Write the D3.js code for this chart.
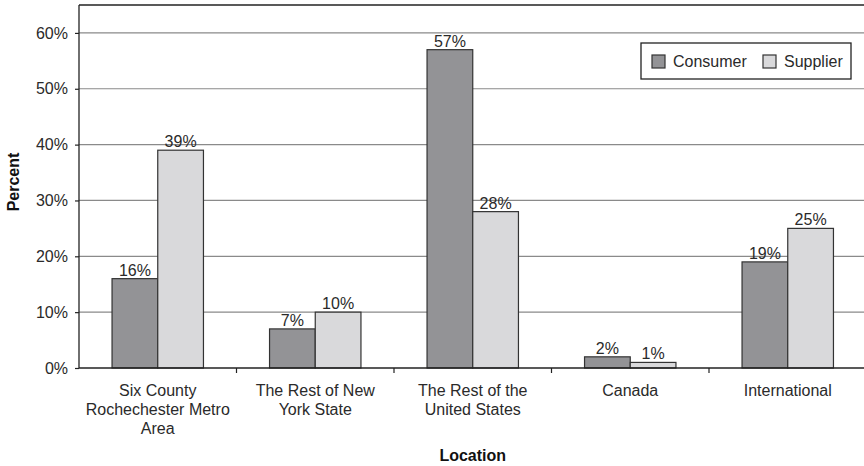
<!DOCTYPE html>
<html>
<head>
<meta charset="utf-8">
<script src="https://cdn.jsdelivr.net/npm/d3@7"></script>
<style>
  html, body { margin: 0; padding: 0; background: #fff; }
  svg { display: block; font-family: "Liberation Sans", Arial, Helvetica, sans-serif; }
</style>
</head>
<body>
<svg id="chart" width="864" height="466"></svg>
<script>
// Share of respondents by location, consumers vs suppliers
const locations = [
  ["Six County", "Rochechester Metro", "Area"],
  ["The Rest of New", "York State"],
  ["The Rest of the", "United States"],
  ["Canada"],
  ["International"]
];
const seriesNames = ["Consumer", "Supplier"];
const consumer = [16, 7, 57, 2, 19];
const supplier = [39, 10, 28, 1, 25];
const yTicks = [0, 10, 20, 30, 40, 50, 60];
const yMax = 65;

const colors = { Consumer: "#939396", Supplier: "#d9d9db" };
const fontSize = 16;
const textColor = "#2a2a2a";

const svg = d3.select("#chart");
const plotLeft = 79, plotRight = 866.5, plotTop = 5, plotBottom = 368;

const keys = locations.map((d, i) => i);
const x = d3.scaleBand().domain(keys).range([plotLeft, plotRight]).padding(0);
const xSub = d3.scaleBand().domain(seriesNames).range([0, x.bandwidth()])
  .paddingInner(0).paddingOuter(0.723);
const y = d3.scaleLinear().domain([0, yMax]).range([plotBottom, plotTop]);

// gridlines
svg.append("g").selectAll("line")
  .data(yTicks.filter(t => t > 0))
  .join("line")
  .attr("x1", plotLeft).attr("x2", plotRight)
  .attr("y1", d => y(d)).attr("y2", d => y(d))
  .attr("stroke", "#8a8a8a").attr("stroke-width", 1.2);

// top border
svg.append("line")
  .attr("x1", plotLeft).attr("x2", plotRight)
  .attr("y1", plotTop).attr("y2", plotTop)
  .attr("stroke", "#222").attr("stroke-width", 1.3);

// bars
const rows = keys.map(i => ({ i, values: [
  { key: "Consumer", v: consumer[i] },
  { key: "Supplier", v: supplier[i] }
]}));

const groups = svg.append("g").selectAll("g")
  .data(rows).join("g")
  .attr("transform", d => `translate(${x(d.i)},0)`);

groups.selectAll("rect")
  .data(d => d.values).join("rect")
  .attr("x", d => xSub(d.key))
  .attr("y", d => y(d.v))
  .attr("width", xSub.bandwidth())
  .attr("height", d => y(0) - y(d.v))
  .attr("fill", d => colors[d.key])
  .attr("stroke", "#333").attr("stroke-width", 1.2);

groups.selectAll("text")
  .data(d => d.values).join("text")
  .attr("x", d => xSub(d.key) + xSub.bandwidth() / 2)
  .attr("y", d => y(d.v) - 3)
  .attr("text-anchor", "middle")
  .attr("font-size", fontSize)
  .attr("fill", textColor)
  .text(d => d.v + "%");

// y axis
const yAxis = d3.axisLeft(y).tickValues(yTicks).tickSize(4).tickPadding(7)
  .tickFormat(d => d + "%");
const gy = svg.append("g").attr("transform", `translate(${plotLeft},0)`).call(yAxis);
gy.select(".domain").attr("d", `M0,${plotTop}V${plotBottom}`).attr("stroke", "#222").attr("stroke-width", 1.3);
gy.selectAll(".tick line").attr("stroke", "#222").attr("stroke-width", 1.2);
gy.selectAll(".tick text").attr("font-size", fontSize).attr("fill", textColor)
  .attr("font-family", "Liberation Sans, Arial, sans-serif");

// x axis with ticks at category boundaries
const gx = svg.append("g").attr("transform", `translate(0,${plotBottom})`);
gx.append("line").attr("x1", plotLeft).attr("x2", plotRight).attr("y1", 0).attr("y2", 0)
  .attr("stroke", "#222").attr("stroke-width", 1.3);
gx.selectAll(".bt").data(keys.slice(1)).join("line").attr("class", "bt")
  .attr("x1", d => x(d)).attr("x2", d => x(d))
  .attr("y1", 0).attr("y2", 5)
  .attr("stroke", "#222").attr("stroke-width", 1.2);

const cat = gx.selectAll(".cat").data(rows).join("text").attr("class", "cat")
  .attr("text-anchor", "middle")
  .attr("font-size", fontSize).attr("fill", textColor);
cat.selectAll("tspan")
  .data(d => locations[d.i].map(s => ({ s, i: d.i })))
  .join("tspan")
  .attr("x", d => x(d.i) + x.bandwidth() / 2)
  .attr("y", (d, j) => 27.5 + j * 19)
  .text(d => d.s);

// axis titles
svg.append("text")
  .attr("x", (plotLeft + plotRight) / 2).attr("y", 461)
  .attr("text-anchor", "middle").attr("font-weight", "bold")
  .attr("font-size", fontSize).attr("fill", "#111")
  .text("Location");

svg.append("text")
  .attr("transform", `translate(19,182) rotate(-90)`)
  .attr("text-anchor", "middle").attr("font-weight", "bold")
  .attr("font-size", fontSize).attr("fill", "#111")
  .text("Percent");

// legend
const lg = svg.append("g").attr("transform", "translate(641,43)");
lg.append("rect").attr("width", 210).attr("height", 36)
  .attr("fill", "#fff").attr("stroke", "#222").attr("stroke-width", 1.3);
const legendX = [11, 122];
const items = lg.selectAll(".li").data(seriesNames).join("g").attr("class", "li")
  .attr("transform", (d, i) => `translate(${legendX[i]},12)`);
items.append("rect").attr("width", 13).attr("height", 13)
  .attr("fill", d => colors[d]).attr("stroke", "#333").attr("stroke-width", 1.2);
items.append("text").attr("x", 21).attr("y", 12)
  .attr("font-size", fontSize).attr("fill", textColor)
  .text(d => d);
</script>
</body>
</html>
